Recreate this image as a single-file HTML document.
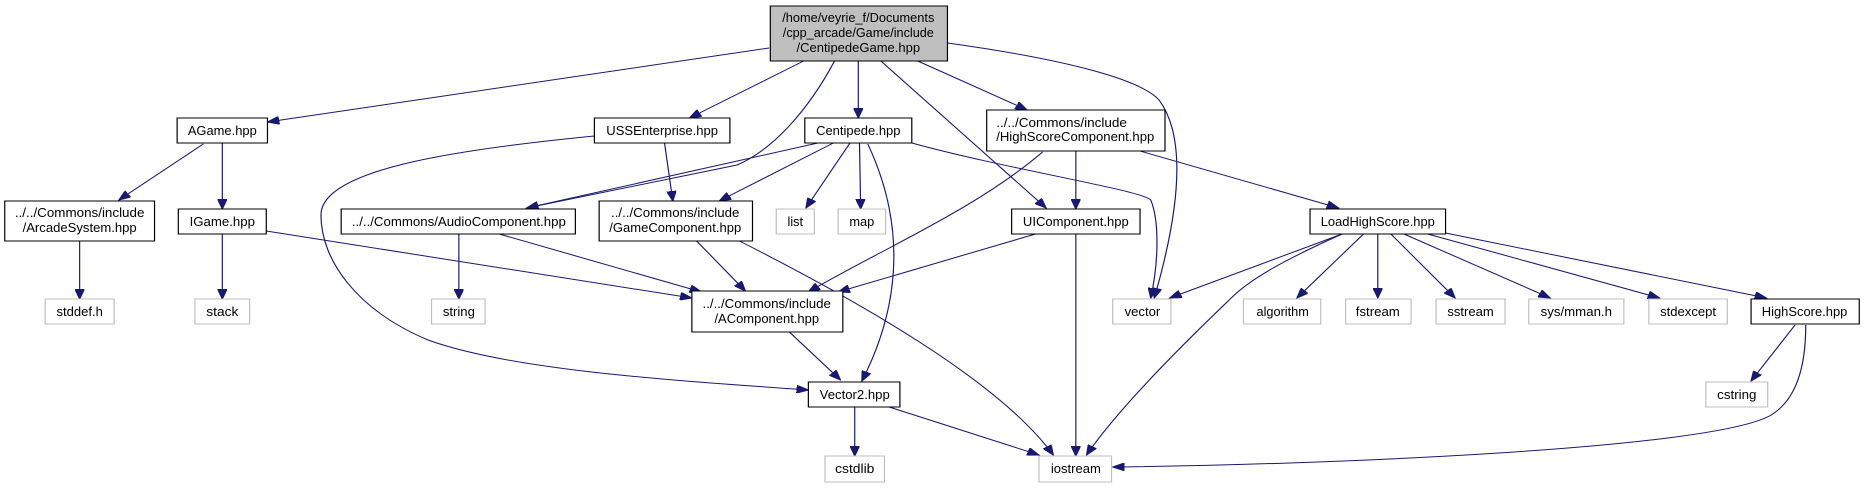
<!DOCTYPE html>
<html><head><meta charset="utf-8"><style>
html,body{margin:0;padding:0;background:#fff;}
svg{display:block;}
text{font-family:"Liberation Sans",Helvetica,sans-serif;font-size:13px;fill:#000;text-anchor:middle;}
.n{fill:#fff;stroke:#000;stroke-width:1;}
.g{fill:#fff;stroke:#bfbfbf;stroke-width:1;}
.r{fill:#bfbfbf;stroke:#000;stroke-width:1;}
path{fill:none;stroke:#191970;stroke-width:1;}
</style></head><body>
<svg width="1864" height="488" viewBox="0 0 1568 488" preserveAspectRatio="none" xmlns="http://www.w3.org/2000/svg">
<defs><marker id="a" markerUnits="userSpaceOnUse" markerWidth="11" markerHeight="8" refX="10" refY="4" orient="auto"><path d="M0,0 L10,4 L0,8 Z" style="fill:#191970;stroke:#191970"/></marker></defs>
<g marker-end="url(#a)">
<path d="M647,48 L225,122"/>
<path d="M676,61 L580,118"/>
<path d="M702,61 C680,110 650,150 620,165 L443,208"/>
<path d="M688,143 L443,208"/>
<path d="M722,61 L722,118"/>
<path d="M741,61 L880,208"/>
<path d="M772,61 L864,110"/>
<path d="M797,43 C900,60 960,80 975,100 C1000,140 990,220 971,298"/>
<path d="M171,144 L100,200"/>
<path d="M187,143 L187,209"/>
<path d="M187,234 L187,299"/>
<path d="M67,241 L67,299"/>
<path d="M224,231 L582,298"/>
<path d="M386,234 L386,299"/>
<path d="M420,234 L590,292"/>
<path d="M559,143 L566,201"/>
<path d="M500,136 C380,150 270,170 270,215 C270,260 300,310 360,340 C430,370 560,380 680,390"/>
<path d="M701,143 L605,201"/>
<path d="M715,143 L678,208"/>
<path d="M723,143 L724,209"/>
<path d="M730,144 C760,220 760,300 725,381"/>
<path d="M767,143 C850,170 960,190 968,200 C975,220 975,260 968,298"/>
<path d="M877,152 C820,210 740,250 680,292"/>
<path d="M905,151 L905,209"/>
<path d="M959,151 L1126,208"/>
<path d="M586,241 L627,291"/>
<path d="M622,241 C720,300 840,380 886,455"/>
<path d="M871,234 L705,292"/>
<path d="M905,234 L905,456"/>
<path d="M664,332 L707,380"/>
<path d="M719,407 L719,456"/>
<path d="M748,407 L874,455"/>
<path d="M1129,234 L984,298"/>
<path d="M1129,234 C1080,260 1050,280 1034,300 C990,350 940,410 914,455"/>
<path d="M1147,234 L1091,298"/>
<path d="M1159,234 L1159,298"/>
<path d="M1170,234 L1224,298"/>
<path d="M1181,234 L1304,298"/>
<path d="M1201,234 L1396,298"/>
<path d="M1216,233 L1486,298"/>
<path d="M1510,325 L1473,381"/>
<path d="M1519,325 C1519,370 1510,400 1490,415 C1440,450 1100,465 936,467"/>
</g>
<g lengthAdjust="spacingAndGlyphs">
<rect class="r" x="648" y="6" width="149" height="55"/>
<text x="722" y="22" textLength="128" lengthAdjust="spacingAndGlyphs">/home/veyrie_f/Documents</text>
<text x="722" y="37" textLength="127" lengthAdjust="spacingAndGlyphs">/cpp_arcade/Game/include</text>
<text x="722" y="52" textLength="104" lengthAdjust="spacingAndGlyphs">/CentipedeGame.hpp</text>
<rect class="n" x="149" y="118" width="76" height="25"/><text x="187" y="135" textLength="58" lengthAdjust="spacingAndGlyphs">AGame.hpp</text>
<rect class="n" x="500" y="118" width="114" height="25"/><text x="557" y="135" textLength="94" lengthAdjust="spacingAndGlyphs">USSEnterprise.hpp</text>
<rect class="n" x="677" y="118" width="90" height="25"/><text x="722" y="135" textLength="71" lengthAdjust="spacingAndGlyphs">Centipede.hpp</text>
<rect class="n" x="830" y="110" width="150" height="41"/><text x="838" y="127" style="text-anchor:start" textLength="110" lengthAdjust="spacingAndGlyphs">../../Commons/include</text><text x="838" y="141" style="text-anchor:start" textLength="133" lengthAdjust="spacingAndGlyphs">/HighScoreComponent.hpp</text>
<rect class="n" x="4" y="201" width="126" height="40"/><text x="67" y="217" textLength="109" lengthAdjust="spacingAndGlyphs">../../Commons/include</text><text x="67" y="232" textLength="96" lengthAdjust="spacingAndGlyphs">/ArcadeSystem.hpp</text>
<rect class="n" x="150" y="209" width="74" height="25"/><text x="187" y="226" textLength="55" lengthAdjust="spacingAndGlyphs">IGame.hpp</text>
<rect class="n" x="287" y="209" width="197" height="25"/><text x="386" y="226" textLength="180" lengthAdjust="spacingAndGlyphs">../../Commons/AudioComponent.hpp</text>
<rect class="n" x="504" y="201" width="129" height="40"/><text x="568" y="217" textLength="108" lengthAdjust="spacingAndGlyphs">../../Commons/include</text><text x="568" y="232" textLength="111" lengthAdjust="spacingAndGlyphs">/GameComponent.hpp</text>
<rect class="g" x="653" y="209" width="32" height="25"/><text x="669" y="226" textLength="13" lengthAdjust="spacingAndGlyphs">list</text>
<rect class="g" x="705" y="209" width="40" height="25"/><text x="725" y="226" textLength="21" lengthAdjust="spacingAndGlyphs">map</text>
<rect class="n" x="851" y="209" width="108" height="25"/><text x="905" y="226" textLength="89" lengthAdjust="spacingAndGlyphs">UIComponent.hpp</text>
<rect class="n" x="1102" y="209" width="114" height="25"/><text x="1159" y="226" textLength="96" lengthAdjust="spacingAndGlyphs">LoadHighScore.hpp</text>
<rect class="g" x="38" y="299" width="58" height="25"/><text x="67" y="316" textLength="39" lengthAdjust="spacingAndGlyphs">stddef.h</text>
<rect class="g" x="164" y="299" width="46" height="25"/><text x="187" y="316" textLength="27" lengthAdjust="spacingAndGlyphs">stack</text>
<rect class="g" x="363" y="299" width="45" height="25"/><text x="386" y="316" textLength="27" lengthAdjust="spacingAndGlyphs">string</text>
<rect class="n" x="582" y="291" width="127" height="41"/><text x="645" y="308" textLength="108" lengthAdjust="spacingAndGlyphs">../../Commons/include</text><text x="645" y="323" textLength="88" lengthAdjust="spacingAndGlyphs">/AComponent.hpp</text>
<rect class="g" x="936" y="299" width="49" height="25"/><text x="961" y="316" textLength="30" lengthAdjust="spacingAndGlyphs">vector</text>
<rect class="g" x="1046" y="299" width="65" height="25"/><text x="1079" y="316" textLength="44" lengthAdjust="spacingAndGlyphs">algorithm</text>
<rect class="g" x="1132" y="299" width="55" height="25"/><text x="1159" y="316" textLength="37" lengthAdjust="spacingAndGlyphs">fstream</text>
<rect class="g" x="1208" y="299" width="58" height="25"/><text x="1237" y="316" textLength="39" lengthAdjust="spacingAndGlyphs">sstream</text>
<rect class="g" x="1286" y="299" width="80" height="25"/><text x="1326" y="316" textLength="60" lengthAdjust="spacingAndGlyphs">sys/mman.h</text>
<rect class="g" x="1387" y="299" width="66" height="25"/><text x="1420" y="316" textLength="47" lengthAdjust="spacingAndGlyphs">stdexcept</text>
<rect class="n" x="1473" y="299" width="91" height="25"/><text x="1518" y="316" textLength="72" lengthAdjust="spacingAndGlyphs">HighScore.hpp</text>
<rect class="n" x="680" y="382" width="77" height="25"/><text x="719" y="399" textLength="59" lengthAdjust="spacingAndGlyphs">Vector2.hpp</text>
<rect class="g" x="694" y="456" width="50" height="26"/><text x="719" y="473" textLength="33" lengthAdjust="spacingAndGlyphs">cstdlib</text>
<rect class="g" x="874" y="456" width="61" height="26"/><text x="905" y="473" textLength="42" lengthAdjust="spacingAndGlyphs">iostream</text>
<rect class="g" x="1435" y="382" width="52" height="25"/><text x="1461" y="399" textLength="33" lengthAdjust="spacingAndGlyphs">cstring</text>
</g>
</svg>
</body></html>
